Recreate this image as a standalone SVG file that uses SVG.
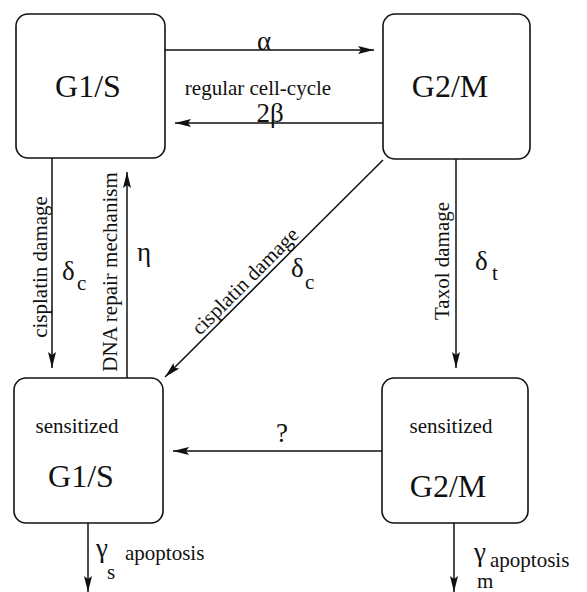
<svg xmlns="http://www.w3.org/2000/svg" width="587" height="592" viewBox="0 0 587 592">
<style>
.box{fill:#fff;stroke:#111;stroke-width:1.6}
.ln{stroke:#111;stroke-width:1.5;fill:none;marker-end:url(#ah)}
text{font-family:"Liberation Serif","Times New Roman",serif;fill:#111}
.big{font-size:32px}
.lab{font-size:21px}
.gr{font-size:27px}
.sub{font-size:21px}
</style>
<defs>
<marker id="ah" markerUnits="userSpaceOnUse" markerWidth="18" markerHeight="10" refX="16" refY="4" orient="auto">
<path d="M0,0 L16,4 L0,8 L3,4 z" fill="#111"/>
</marker>
</defs>
<rect width="587" height="592" fill="#fff"/>
<g id="connectors">
<line class="ln" x1="165" y1="50" x2="374" y2="50"/>
<line class="ln" x1="383" y1="123" x2="175" y2="123"/>
<line class="ln" x1="52" y1="158" x2="52" y2="368"/>
<line class="ln" x1="127" y1="378" x2="127" y2="172"/>
<line class="ln" x1="383" y1="160" x2="165" y2="377"/>
<line class="ln" x1="456" y1="159" x2="456" y2="368"/>
<line class="ln" x1="382" y1="451" x2="173" y2="451"/>
<line class="ln" x1="88" y1="523" x2="88" y2="592"/>
<line class="ln" x1="454" y1="523" x2="454" y2="592"/>
<text class="gr" x="264" y="50" text-anchor="middle">α</text>
<text class="lab" x="258" y="95" text-anchor="middle">regular cell-cycle</text>
<text class="gr" x="270" y="122" text-anchor="middle">2β</text>
<text class="lab" transform="translate(47 267) rotate(-90)" text-anchor="middle">cisplatin damage</text>
<text class="gr" x="62" y="280">δ</text><text class="sub" x="77" y="290">c</text>
<text class="lab" transform="translate(117 272) rotate(-90)" text-anchor="middle">DNA repair mechanism</text>
<text class="gr" x="137" y="261">η</text>
<text class="lab" transform="translate(250 286) rotate(-45)" text-anchor="middle">cisplatin damage</text>
<text class="gr" x="291" y="277">δ</text><text class="sub" x="305" y="289">c</text>
<text class="lab" transform="translate(449 261) rotate(-90)" text-anchor="middle">Taxol damage</text>
<text class="gr" x="475" y="270">δ</text><text class="sub" x="492" y="280">t</text>
<text class="gr" x="282" y="442" text-anchor="middle">?</text>
<text class="gr" x="96" y="557">γ</text><text class="sub" x="107" y="579">s</text>
<text class="lab" x="125" y="560">apoptosis</text>
<text class="gr" x="474" y="561">γ</text><text class="sub" x="477" y="588">m</text>
<text class="lab" x="490" y="567">apoptosis</text>
</g>
<g id="g1s">
<rect class="box" x="16" y="14" width="149" height="144" rx="12"/>
<text class="big" x="88" y="97" text-anchor="middle">G1/S</text>
</g>
<g id="g2m">
<rect class="box" x="383" y="14" width="147" height="145" rx="12"/>
<text class="big" x="450" y="97" text-anchor="middle">G2/M</text>
</g>
<g id="sg1s">
<rect class="box" x="14" y="378" width="149" height="145" rx="12"/>
<text class="lab" x="77" y="433" text-anchor="middle">sensitized</text>
<text class="big" x="81" y="487" text-anchor="middle">G1/S</text>
</g>
<g id="sg2m">
<rect class="box" x="382" y="378" width="146" height="145" rx="12"/>
<text class="lab" x="451" y="433" text-anchor="middle">sensitized</text>
<text class="big" x="448" y="497" text-anchor="middle">G2/M</text>
</g>
</svg>
